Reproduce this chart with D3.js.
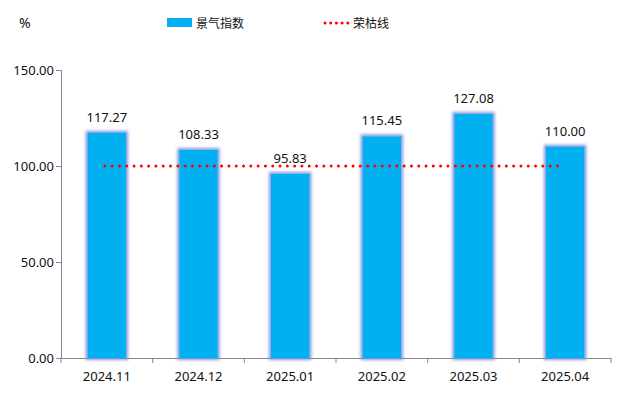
<!DOCTYPE html>
<html>
<head>
<meta charset="utf-8">
<script src="https://cdn.jsdelivr.net/npm/d3@7"></script>
<style>
  body { margin: 0; background: #fff; }
  text { font-family: "Noto Sans", "Noto Sans CJK SC", sans-serif; fill: #111; }
</style>
</head>
<body>
<div id="chart"></div>
<script>
const months = ['2024.11', '2024.12', '2025.01', '2025.02', '2025.03', '2025.04'];
const index = [117.27, 108.33, 95.83, 115.45, 127.08, 110.00];
const baseline = [100, 100, 100, 100, 100, 100];
const yTicks = [0, 50, 100, 150];

const W = 630, H = 394;
const m = { top: 70, right: 19, bottom: 36, left: 61 };

const svg = d3.select('#chart').append('svg')
  .attr('width', W).attr('height', H);

const defs = svg.append('defs');
const glow = defs.append('filter').attr('id', 'glow')
  .attr('x', '-30%').attr('y', '-30%').attr('width', '160%').attr('height', '160%');
glow.append('feMorphology').attr('in', 'SourceAlpha').attr('operator', 'dilate').attr('radius', 1.5).attr('result', 'd');
glow.append('feGaussianBlur').attr('in', 'd').attr('stdDeviation', 1.6).attr('result', 'b');
glow.append('feFlood').attr('flood-color', '#7a92dd').attr('flood-opacity', 0.9);
glow.append('feComposite').attr('in2', 'b').attr('operator', 'in').attr('result', 's');
const mg = glow.append('feMerge');
mg.append('feMergeNode').attr('in', 's');
mg.append('feMergeNode').attr('in', 'SourceGraphic');

const x = d3.scaleBand().domain(months).range([m.left, W - m.right]).paddingInner(0.58).paddingOuter(0.29);
const y = d3.scaleLinear().domain([0, 150]).range([H - m.bottom, m.top]);

// axes
const yAxis = svg.append('g').attr('transform', `translate(${m.left},0)`)
  .call(d3.axisLeft(y).tickValues(yTicks).tickSize(5).tickFormat(d3.format('.2f')));
yAxis.select('.domain').attr('stroke', '#888');
yAxis.selectAll('.tick line').attr('stroke', '#888');
yAxis.selectAll('.tick text').attr('font-size', 13).attr('x', -7).attr('fill', '#111');

const step = (W - m.right - m.left) / months.length;
const xAxis = svg.append('g').attr('transform', `translate(0,${y(0)})`)
  .call(d3.axisBottom(x).tickSize(0).tickPadding(14));
xAxis.select('.domain').attr('stroke', '#888');
xAxis.selectAll('.tick text').attr('font-size', 13).attr('fill', '#111');
xAxis.selectAll('.sep').data(d3.range(months.length + 1)).enter().append('line')
  .attr('x1', i => m.left + i * step).attr('x2', i => m.left + i * step)
  .attr('y1', 0).attr('y2', 5).attr('stroke', '#888');

// bars
svg.append('g').selectAll('rect').data(index).enter().append('rect')
  .attr('x', (d, i) => x(months[i]))
  .attr('y', d => y(d))
  .attr('width', x.bandwidth())
  .attr('height', d => y(0) - y(d))
  .attr('fill', '#00B0F0')
  .attr('filter', 'url(#glow)');

svg.append('g').selectAll('text').data(index).enter().append('text')
  .attr('x', (d, i) => x(months[i]) + x.bandwidth() / 2)
  .attr('y', d => y(d) - 11)
  .attr('text-anchor', 'middle')
  .attr('font-size', 13)
  .text(d => d.toFixed(2));

// 荣枯线
const line = d3.line()
  .x((d, i) => x(months[i]) + x.bandwidth() / 2 - 2)
  .y(d => y(d));
svg.append('path').datum(baseline)
  .attr('d', line)
  .attr('fill', 'none')
  .attr('stroke', '#f00')
  .attr('stroke-width', 3)
  .attr('stroke-linecap', 'round')
  .attr('stroke-dasharray', '0 7.3');

// legend
svg.append('text').attr('x', 19).attr('y', 28).attr('font-size', 14).text('%');
svg.append('rect').attr('x', 167).attr('y', 18).attr('width', 25).attr('height', 9).attr('fill', '#00B0F0');
svg.append('text').attr('x', 196).attr('y', 28).attr('font-size', 12).text('景气指数');
svg.append('line').attr('x1', 325).attr('x2', 348).attr('y1', 23).attr('y2', 23)
  .attr('stroke', '#f00').attr('stroke-width', 3).attr('stroke-linecap', 'round').attr('stroke-dasharray', '0 5.7');
svg.append('text').attr('x', 353).attr('y', 28).attr('font-size', 12).text('荣枯线');
</script>
</body>
</html>
